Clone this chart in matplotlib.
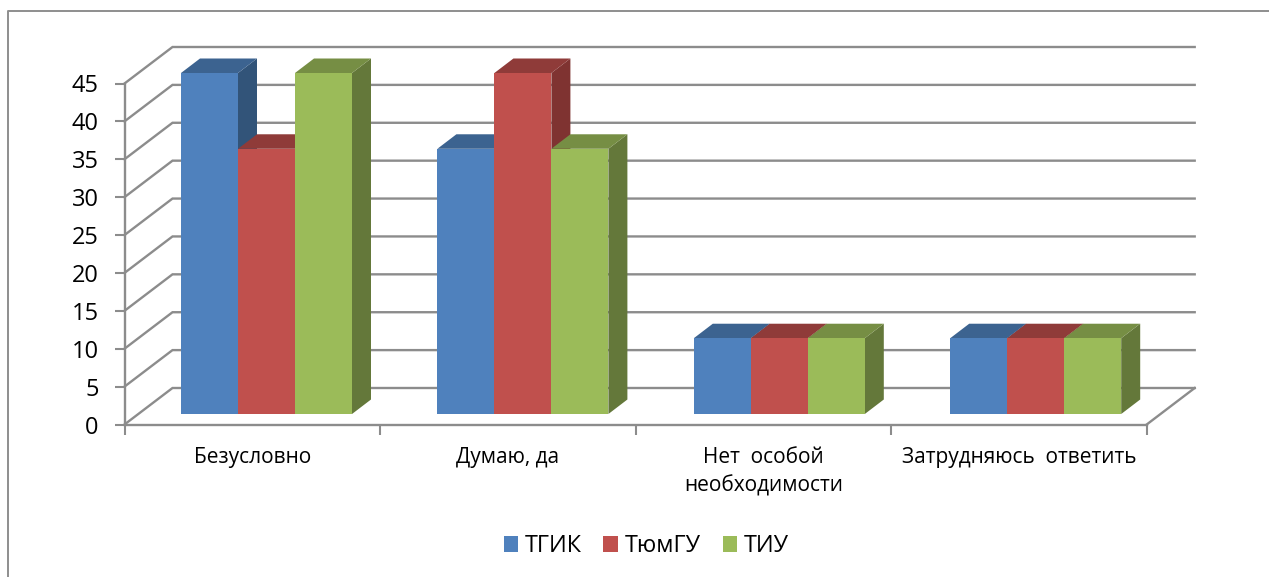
"""3D-style clustered column chart, drawn as an oblique projection on plain 2D axes."""
import matplotlib
matplotlib.use("Agg")
import matplotlib.pyplot as plt
from matplotlib.patches import Polygon, Rectangle
from matplotlib.lines import Line2D

categories = ["Безусловно", "Думаю, да", "Нет  особой\nнеобходимости", "Затрудняюсь  ответить"]
series_names = ["ТГИК", "ТюмГУ", "ТИУ"]
tgik = [45, 35, 10, 10]
tyumgu = [35, 45, 10, 10]
tiu = [45, 35, 10, 10]
yticks = list(range(0, 50, 5))

face = ["#4F81BD", "#C0504D", "#9BBB59"]
top = ["#3C6390", "#8F3B39", "#768E44"]
side = ["#325479", "#7F3331", "#64783A"]
GRID = "#8C8C8C"

W, H = 1269, 577
plt.rcParams["font.family"] = ["Open Sans", "DejaVu Sans"]
fig = plt.figure(figsize=(W / 100, H / 100), dpi=100)

# axes span the front plane of the chart box
x0, x1, y0, y45 = 124.5, 1146.7, 424.5, 83.5
ax = fig.add_axes([x0 / W, 1 - y0 / H, (x1 - x0) / W, (y0 - y45) / H])
ax.set_xlim(0, 4)
ax.set_ylim(0, 45)
ax.patch.set_visible(False)

ux = (x1 - x0) / 4      # px per category
uy = (y0 - y45) / 45    # px per value unit


def pr(x, y, dx=0, dy=0):
    # data position shifted by a depth offset given in pixels
    return (x + dx / ux, y + dy / uy)


# wall and floor lines
DX, DY = 48, 36.5
for v in yticks:
    ax.plot(*zip(pr(0, v), pr(0, v, DX, DY), pr(4, v, DX, DY)), color=GRID, lw=1.7,
            clip_on=False, zorder=1, solid_joinstyle="miter")
ax.plot(*zip(pr(4, 0), pr(4, 0, DX, DY)), color=GRID, lw=1.7, clip_on=False, zorder=1)

# columns: groups sit a touch wider apart than the ticks, as in the source chart
BAR_W = 57 / ux
START = 56.5 / ux
GROUP_STEP = 256.4 / ux
for c in range(len(categories)):
    for s, vals in enumerate([tgik, tyumgu, tiu]):
        left = START + c * GROUP_STEP + s * BAR_W
        right = left + BAR_W
        v = vals[c]
        b = 10.5 / uy
        bdx, bdy = 19, 14.5
        ax.add_patch(Polygon([pr(right, b), pr(right, v + b), pr(right, v + b, bdx, bdy), pr(right, b, bdx, bdy)],
                             fc=side[s], ec="none", clip_on=False, zorder=2 + s))
        ax.add_patch(Polygon([pr(left, v + b), pr(right, v + b), pr(right, v + b, bdx, bdy), pr(left, v + b, bdx, bdy)],
                             fc=top[s], ec="none", clip_on=False, zorder=2 + s))
        ax.add_patch(Rectangle((left, b), BAR_W, v, fc=face[s], ec="none", clip_on=False, zorder=2 + s))

for name in ["top", "right"]:
    ax.spines[name].set_visible(False)
for name in ["left", "bottom"]:
    ax.spines[name].set_color(GRID)
    ax.spines[name].set_linewidth(1.7)
ax.set_yticks(yticks)
ax.tick_params(axis="y", length=7, width=1.5, color=GRID, labelsize=17, pad=11.5)
ax.set_xticks(range(5))
ax.set_xticklabels([])
ax.tick_params(axis="x", which="major", length=7, width=1.5, color=GRID)
ax.set_xticks([i + 0.5 for i in range(4)], minor=True)
ax.set_xticklabels(categories, minor=True, fontsize=15, linespacing=1.45, va="top")
ax.tick_params(axis="x", which="minor", length=0, pad=16)

# chart frame runs off the right and bottom of the image
fig.add_artist(Line2D([7.5 / W, 7.5 / W, 1], [0, 1 - 10.5 / H, 1 - 10.5 / H], color="#8E8E8E", lw=1.4))

handles = [Rectangle((0, 0), 1, 1, fc=c, ec="none") for c in face]
fig.legend(handles, series_names, loc="center", bbox_to_anchor=(646 / W, 1 - 546 / H), ncol=3, frameon=False,
           fontsize=16.8, handlelength=0.64, handleheight=0.64, handletextpad=0.25, columnspacing=0.95)

fig.savefig("out.png", dpi=100)
